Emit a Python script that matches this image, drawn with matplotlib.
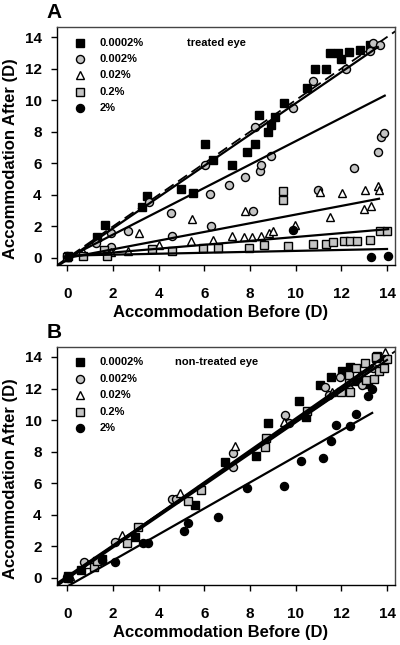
import numpy as np
import matplotlib
matplotlib.use("Agg")
import matplotlib.pyplot as plt

plt.rcParams["font.family"] = ["Liberation Sans", "DejaVu Sans"]
plt.rcParams["font.weight"] = "bold"

# ---- data (x = before, y = after, in D) ----
groups = ["0.0002%", "0.002%", "0.02%", "0.2%", "2%"]

# panel A: treated eye
a_x_00002 = [0.05, 1.3, 1.65, 3.25, 3.5, 5.0, 5.5, 6.05, 6.4, 7.2, 7.85, 8.2, 8.4, 8.8, 8.9,
             9.1, 9.5, 10.5, 10.85, 11.35, 11.5, 11.85, 12.0, 12.35, 12.8, 13.25]
a_y_00002 = [0.1, 1.3, 2.1, 3.25, 3.95, 4.35, 4.1, 7.2, 6.2, 5.9, 6.7, 7.2, 9.05, 8.0, 8.4,
             8.95, 9.8, 10.8, 11.95, 11.95, 13.0, 13.0, 12.6, 13.05, 13.2, 13.5]
a_x_0002 = [0.0, 1.25, 1.9, 1.9, 2.65, 3.6, 4.55, 4.6, 6.05, 6.25, 6.3, 7.1, 7.8, 8.15, 8.2,
            8.45, 8.5, 8.9, 9.9, 10.75, 11.0, 12.2, 12.55, 13.25, 13.4, 13.6, 13.7, 13.75, 13.85]
a_y_0002 = [0.1, 0.95, 0.7, 1.6, 1.7, 3.55, 2.85, 1.4, 5.9, 4.05, 2.05, 4.65, 5.15, 2.95, 8.3,
            5.5, 5.9, 6.45, 9.5, 11.2, 4.3, 11.95, 5.7, 13.1, 13.6, 6.7, 13.5, 7.65, 7.9]
a_x_002 = [0.0, 0.7, 1.9, 2.65, 3.15, 4.0, 5.4, 5.45, 6.4, 7.2, 7.75, 7.8, 8.1, 8.5, 8.85,
           9.0, 9.95, 11.05, 11.5, 12.05, 13.0, 13.05, 13.3, 13.6, 13.65]
a_y_002 = [0.05, 0.4, 0.35, 0.45, 1.6, 0.85, 1.1, 2.5, 1.15, 1.4, 1.3, 3.0, 1.3, 1.4, 1.6,
           1.7, 2.1, 4.15, 2.6, 4.1, 3.1, 4.3, 3.3, 4.55, 4.3]
a_x_02 = [0.0, 0.7, 1.6, 1.75, 3.7, 4.6, 5.95, 6.6, 7.95, 8.6, 9.45, 9.45, 9.65, 10.75,
          11.35, 11.65, 12.1, 12.4, 12.7, 13.25, 13.7, 14.0]
a_y_02 = [0.05, 0.1, 0.5, 0.1, 0.55, 0.45, 0.65, 0.65, 0.65, 0.8, 4.25, 3.7, 0.75, 0.9,
          0.9, 1.0, 1.05, 1.1, 1.1, 1.15, 1.7, 1.7]
a_x_2 = [0.05, 9.9, 13.3, 14.05]
a_y_2 = [0.05, 1.75, 0.05, 0.1]

# panel B: non-treated eye
b_x_00002 = [0.05, 0.6, 1.5, 2.95, 5.6, 6.9, 8.25, 8.8, 10.15, 10.45, 11.05, 11.55, 12.05,
             12.4, 12.75, 13.15, 13.5, 13.55]
b_y_00002 = [0.1, 0.5, 1.2, 2.6, 4.6, 7.35, 7.7, 9.8, 11.2, 10.2, 12.25, 12.7, 13.1,
             13.35, 12.45, 12.3, 13.95, 14.05]
b_x_0002 = [0.0, 0.75, 2.1, 4.6, 4.75, 7.25, 7.25, 9.55, 9.7, 11.3, 11.45, 11.95, 12.35,
            12.9, 13.4]
b_y_0002 = [0.05, 1.0, 2.3, 5.0, 5.0, 7.0, 7.9, 10.3, 9.8, 12.1, 11.6, 12.75, 12.0,
            12.2, 13.3]
b_x_002 = [0.1, 0.9, 2.4, 4.95, 7.35, 9.5, 11.6, 12.8, 13.9]
b_y_002 = [0.15, 0.9, 2.7, 5.35, 8.35, 9.9, 11.8, 12.9, 14.3]
b_x_02 = [0.05, 1.15, 1.3, 2.6, 3.1, 5.3, 5.85, 8.65, 8.7, 10.5, 12.0, 12.4, 12.35, 12.35,
          12.65, 13.05, 13.1, 13.45, 13.5, 13.65, 13.85, 14.0]
b_y_02 = [0.0, 0.7, 1.1, 2.2, 3.2, 4.9, 5.6, 8.3, 8.85, 10.6, 11.8, 11.8, 12.5, 12.85,
          13.3, 13.6, 12.55, 12.6, 14.0, 13.1, 13.3, 13.85]
b_x_2 = [0.05, 1.5, 2.1, 3.3, 3.55, 5.1, 5.3, 6.6, 7.85, 9.5, 10.25, 11.2, 11.55, 11.75,
         12.4, 12.65, 13.15, 13.35]
b_y_2 = [0.0, 1.15, 1.0, 2.2, 2.2, 2.95, 3.5, 3.85, 5.7, 5.85, 7.4, 7.6, 8.65, 9.7,
         9.65, 10.4, 11.5, 12.0]

# fitted lines (slope, intercept, x start, x end)
a_fit_slope = [0.99, 0.74, 0.275, 0.123, 0.03]
a_fit_icpt = [-0.1, 0.0, 0.0, 0.1, 0.15]
a_fit_x0 = [-0.35, 0.0, 0.0, 0.0, 0.0]
a_fit_x1 = [13.6, 13.9, 13.65, 14.05, 14.0]
b_fit_slope = [0.98, 1.0, 1.01, 0.99, 0.8235]
b_fit_icpt = [0.1, 0.0, 0.0, -0.05, -0.54]
b_fit_x0 = [-0.45, -0.45, -0.45, -0.45, 0.0]
b_fit_x1 = [13.6, 13.4, 13.9, 14.0, 13.35]

panel_a = [(a_x_00002, a_y_00002), (a_x_0002, a_y_0002), (a_x_002, a_y_002),
           (a_x_02, a_y_02), (a_x_2, a_y_2)]
panel_b = [(b_x_00002, b_y_00002), (b_x_0002, b_y_0002), (b_x_002, b_y_002),
           (b_x_02, b_y_02), (b_x_2, b_y_2)]

# marker style per group
styles = [
    dict(marker="s", mfc="black", mec="black"),
    dict(marker="o", mfc="#c4c4c4", mec="black"),
    dict(marker="^", mfc="white", mec="black"),
    dict(marker="s", mfc="#c4c4c4", mec="black"),
    dict(marker="o", mfc="black", mec="black"),
]
MS = 5.8


def draw_panel(ax, data, slopes, icpts, x0s, x1s, letter, note):
    ax.plot([-1, 15], [-1, 15], color="black", lw=1.3, ls=(0, (6, 3)), zorder=2)  # identity
    for (xs, ys), st in zip(data, styles):
        ax.plot(xs, ys, ls="none", ms=MS, mew=1.0, zorder=3, **st)
    for s, b, x0, x1 in zip(slopes, icpts, x0s, x1s):
        xx = np.array([x0, x1])
        ax.plot(xx, s * xx + b, color="black", lw=1.6, zorder=4)

    ax.set_xlim(-0.45, 14.35)
    ax.set_ylim(-0.45, 14.63)
    ax.set_xticks(range(0, 15, 2))
    ax.set_yticks(range(0, 15, 2))
    ax.tick_params(direction="out", length=4, width=1, labelsize=11)
    ax.tick_params(axis="x", pad=12)
    ax.tick_params(axis="y", pad=7)
    for lab in ax.get_xticklabels() + ax.get_yticklabels():
        lab.set_fontweight("bold")
    for sp in ax.spines.values():
        sp.set_linewidth(1.0)
    ax.spines["top"].set_color("#444444")
    ax.spines["right"].set_color("#444444")

    ax.set_xlabel("Accommodation Before (D)", fontsize=12, fontweight="bold")
    ax.set_ylabel("Accommodation After (D)", fontsize=12, fontweight="bold")
    ax.xaxis.set_label_coords(0.484, -0.168)
    ax.yaxis.set_label_coords(-0.115, 0.447)

    # legend drawn by hand to keep the compact layout
    for i, (g, st) in enumerate(zip(groups, styles)):
        yy = 0.935 - i * 0.069
        ax.plot([0.068], [yy], transform=ax.transAxes, ms=MS, mew=1.0, ls="none",
                clip_on=False, **st)
        ax.text(0.127, yy, g, transform=ax.transAxes, fontsize=8, fontweight="bold",
                va="center", ha="left")
    ax.text(note[1], 0.935, note[0], transform=ax.transAxes, fontsize=8,
            fontweight="bold", va="center", ha="left")
    ax.text(-0.03, 1.02, letter, transform=ax.transAxes, fontsize=15,
            fontweight="bold", va="bottom", ha="left")


fig = plt.figure(figsize=(4.0, 6.45), dpi=100)
ax_a = fig.add_axes([0.1425, 0.589, 0.845, 0.369])
ax_b = fig.add_axes([0.1425, 0.093, 0.845, 0.369])

draw_panel(ax_a, panel_a, a_fit_slope, a_fit_icpt, a_fit_x0, a_fit_x1, "A", ("treated eye", 0.385))
draw_panel(ax_b, panel_b, b_fit_slope, b_fit_icpt, b_fit_x0, b_fit_x1, "B", ("non-treated eye", 0.35))

fig.savefig("out.png", dpi=100)
